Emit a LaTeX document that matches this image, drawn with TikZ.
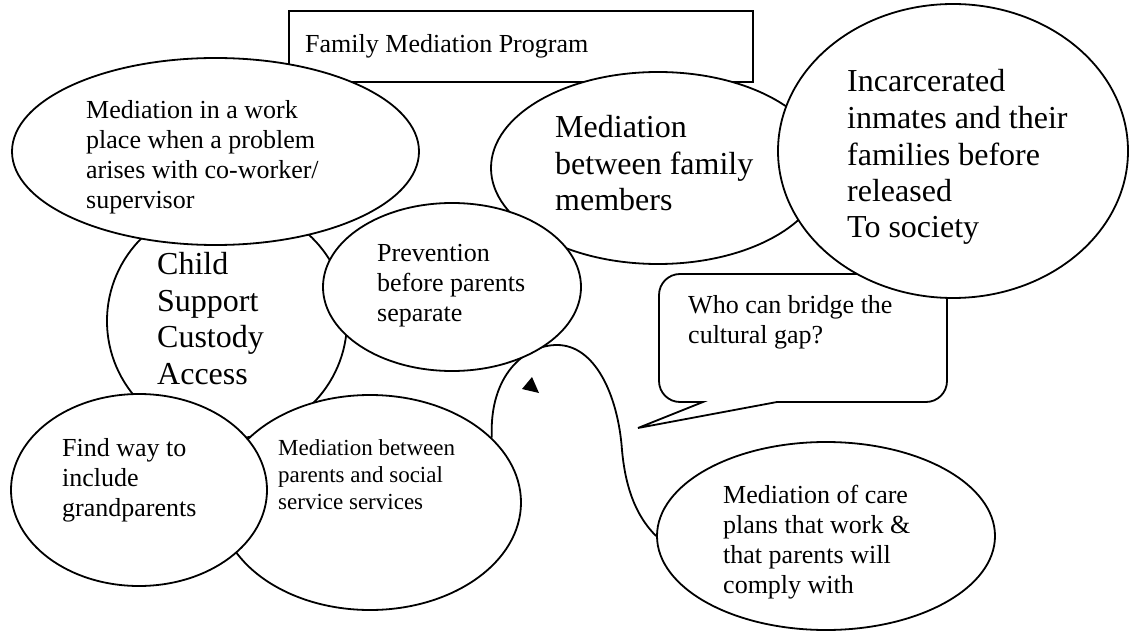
\documentclass[tikz,border=0pt]{standalone}
\usepackage{fontspec}
\setmainfont{Liberation Serif}
\usetikzlibrary{shapes.geometric}
\pgfdeclarelayer{edgelayer}
\pgfdeclarelayer{nodelayer}
\pgfsetlayers{edgelayer,nodelayer,main}
\tikzstyle{plain_ellipse}=[ellipse,draw=black,fill=white,line width=1.8pt,inner sep=0pt]
\tikzstyle{plain_box}=[rectangle,draw=black,fill=white,line width=1.8pt,inner sep=0pt]
\tikzstyle{bubble_line}=[draw=black,fill=white,line width=1.8pt]
\tikzstyle{curve_line}=[-,draw=black,line width=1.8pt]
\tikzstyle{large_label}=[anchor=base west,align=left,inner sep=0pt,font=\fontsize{32}{36.5}\selectfont]
\tikzstyle{medium_label}=[anchor=base west,align=left,inner sep=0pt,font=\fontsize{26}{30}\selectfont]
\tikzstyle{small_label}=[anchor=base west,align=left,inner sep=0pt,font=\fontsize{23}{26.7}\selectfont]

\begin{document}
\begin{tikzpicture}[x=1pt,y=-1pt]
	\useasboundingbox (0,0) rectangle (1130,631);
	\begin{pgfonlayer}{nodelayer}
		\node [style={plain_box}, minimum width=464pt, minimum height=71pt] (0) at (521, 46.5) {};
		\node [style={plain_ellipse}, minimum width=240pt, minimum height=236pt] (1) at (227, 321) {};
		\node [style={plain_ellipse}, minimum width=407pt, minimum height=187pt] (2) at (215.5, 151.5) {};
		\node [style={plain_ellipse}, minimum width=334pt, minimum height=192pt] (3) at (658, 168) {};
		\draw [style=bubble_line] (777, 402) -- (926, 402) arc[start angle=90, end angle=0, radius=21] -- (947, 295) arc[start angle=0, end angle=-90, radius=21] -- (680, 274) arc[start angle=-90, end angle=-180, radius=21] -- (659, 381) arc[start angle=180, end angle=90, radius=21] -- (703, 402) -- (638, 428) -- cycle;
		\node [style={plain_ellipse}, minimum width=350pt, minimum height=294pt] (4) at (953, 151) {};
		\node [style={plain_ellipse}, minimum width=258pt, minimum height=168pt] (5) at (452, 287) {};
		\node [style={plain_ellipse}, minimum width=302pt, minimum height=215pt] (6) at (370, 502.5) {};
		\node [style={plain_ellipse}, minimum width=256pt, minimum height=192pt] (7) at (139, 490) {};
		\node [style={plain_ellipse}, minimum width=338pt, minimum height=188pt] (8) at (826, 536) {};
	\end{pgfonlayer}
	\begin{pgfonlayer}{edgelayer}
		\draw [style=curve_line] (6.28) .. controls (489, 375) and (525, 345) .. (557, 345) .. controls (595, 345) and (618, 395) .. (622, 450) .. controls (626, 495) and (640, 520) .. (8.west);
		\fill (532, 377) -- (522, 389) -- (539, 393) -- cycle;
	\end{pgfonlayer}
	\node [style={medium_label}] (10) at (305, 53) {Family Mediation Program};
	\node [style={medium_label}] (11) at (86, 209) {Mediation in a work\\place when a problem\\arises with co-worker/\\supervisor};
	\node [style={large_label}] (12) at (555, 211) {Mediation\\between family\\members};
	\node [style={large_label}] (13) at (847, 238) {Incarcerated\\inmates and their\\families before\\released\\To society};
	\node [style={large_label}] (14) at (157, 384) {Child\\Support\\Custody\\Access};
	\node [style={medium_label}] (15) at (377, 321) {Prevention\\before parents\\separate};
	\node [style={medium_label}] (16) at (688, 343) {Who can bridge the\\cultural gap?};
	\node [style={medium_label}] (17) at (62, 516) {Find way to\\include\\grandparents};
	\node [style={small_label}] (18) at (278, 509) {Mediation between\\parents and social\\service services};
	\node [style={medium_label}] (19) at (723, 593) {Mediation of care\\plans that work \&\\that parents will\\comply with};
\end{tikzpicture}
\end{document}
